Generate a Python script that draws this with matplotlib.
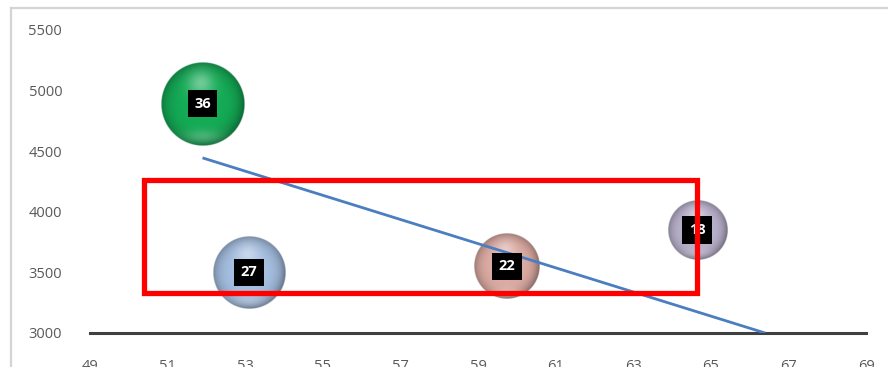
import numpy as np
import matplotlib
matplotlib.use("Agg")
import matplotlib.pyplot as plt
from matplotlib.patches import Rectangle
from matplotlib.lines import Line2D

# --- data -------------------------------------------------------------
bubble_x = [51.9, 53.1, 59.75, 64.65]
bubble_y = [4890, 3500, 3550, 3850]
bubble_size = [36, 27, 22, 18]
bubble_colors = ["#14ac56", "#a6c0e2", "#deaca4", "#bbb3ce"]

trend_x = [51.9, 66.4]
trend_y = [4445, 3000]

highlight_box_x = [50.4, 64.65]
highlight_box_y = [3330, 4262]

x_ticks = list(range(49, 70, 2))
y_ticks = list(range(3000, 5501, 500))

# --- figure -----------------------------------------------------------
W, H, DPI = 888, 367, 100
fig = plt.figure(figsize=(W / DPI, H / DPI), dpi=DPI)
fig.patch.set_facecolor("white")

# chart-area border (light gray)
fig.add_artist(Line2D([10.5 / W, 1.0], [1 - 7.5 / H, 1 - 7.5 / H],
                      transform=fig.transFigure, color="#d4d4d4", lw=1.6))
fig.add_artist(Line2D([10.5 / W, 10.5 / W], [0.0, 1 - 7.5 / H],
                      transform=fig.transFigure, color="#d4d4d4", lw=1.6))

ax = fig.add_axes([90 / W, 1 - 333 / H, (866 - 90) / W, (333 - 30) / H])
ax.set_xlim(49, 69)
ax.set_ylim(3000, 5500)
ax.set_xticks(x_ticks)
ax.set_yticks(y_ticks)
ax.set_xticklabels([str(v) for v in x_ticks])
ax.set_yticklabels([str(v) for v in y_ticks])
for s in ("top", "right", "left"):
    ax.spines[s].set_visible(False)
ax.spines["bottom"].set_color("#404040")
ax.spines["bottom"].set_linewidth(2.2)
ax.tick_params(axis="both", length=0, labelcolor="#595959", labelsize=10.5)
ax.tick_params(axis="y", pad=20)
ax.tick_params(axis="x", pad=19)
for lab in ax.get_xticklabels() + ax.get_yticklabels():
    lab.set_fontfamily("Open Sans")
ax.set_facecolor("none")


def sphere_image(color, n=240):
    """RGBA image of a glossy, shaded ball in the given base colour."""
    base = np.array(matplotlib.colors.to_rgb(color))
    v, u = np.mgrid[1:-1:complex(0, n), -1:1:complex(0, n)]
    d = np.sqrt(u ** 2 + v ** 2)
    dc = np.clip(d, 0, 1)
    # darken towards the rim, a little more on the lower right
    shade = 1.0 - (0.30 + 0.12 * np.clip(u - v, 0, 1)) * dc ** 5
    rgb = base[None, None, :] * shade[..., None]
    # soft top highlight
    hl = np.exp(-((u + 0.05) ** 2 + (v - 0.5) ** 2) / (2 * 0.22 ** 2))
    rgb = rgb + (1 - rgb) * (0.38 * hl)[..., None]
    # faint bottom reflection
    rf = np.exp(-((u) ** 2 / (2 * 0.35 ** 2) + (v + 0.78) ** 2 / (2 * 0.12 ** 2)))
    rgb = rgb + (1 - rgb) * (0.22 * rf)[..., None]
    alpha = np.clip((1.0 - d) * n / 3.0, 0, 1)
    return np.dstack([np.clip(rgb, 0, 1), alpha])


# pixels per data unit
p0 = ax.transData.transform((49, 3000))
p1 = ax.transData.transform((69, 5500))
px_per_x = (p1[0] - p0[0]) / 20.0
px_per_y = (p1[1] - p0[1]) / 2500.0

for x, y, s, c in zip(bubble_x, bubble_y, bubble_size, bubble_colors):
    r_px = 7.0 * np.sqrt(s)
    rx, ry = r_px / px_per_x, r_px / px_per_y
    ax.imshow(sphere_image(c), extent=[x - rx, x + rx, y - ry, y + ry],
              interpolation="bilinear", zorder=2, aspect="auto")

ax.plot(trend_x, trend_y, color="#4a7ec0", lw=2.0, zorder=3,
        solid_capstyle="butt")

for x, y, s in zip(bubble_x, bubble_y, bubble_size):
    ax.text(x, y, str(s), ha="center", va="center", color="white",
            fontsize=10.5, fontweight="bold", fontfamily="Open Sans", zorder=4,
            bbox=dict(boxstyle="square,pad=0.45", fc="black", ec="none"))

ax.add_patch(Rectangle((highlight_box_x[0], highlight_box_y[0]),
                       highlight_box_x[1] - highlight_box_x[0],
                       highlight_box_y[1] - highlight_box_y[0],
                       fill=False, ec="#ff0000", lw=3.8, zorder=5,
                       clip_on=False))

ax.set_xlim(49, 69)
ax.set_ylim(3000, 5500)

fig.savefig("out.png", dpi=DPI)
